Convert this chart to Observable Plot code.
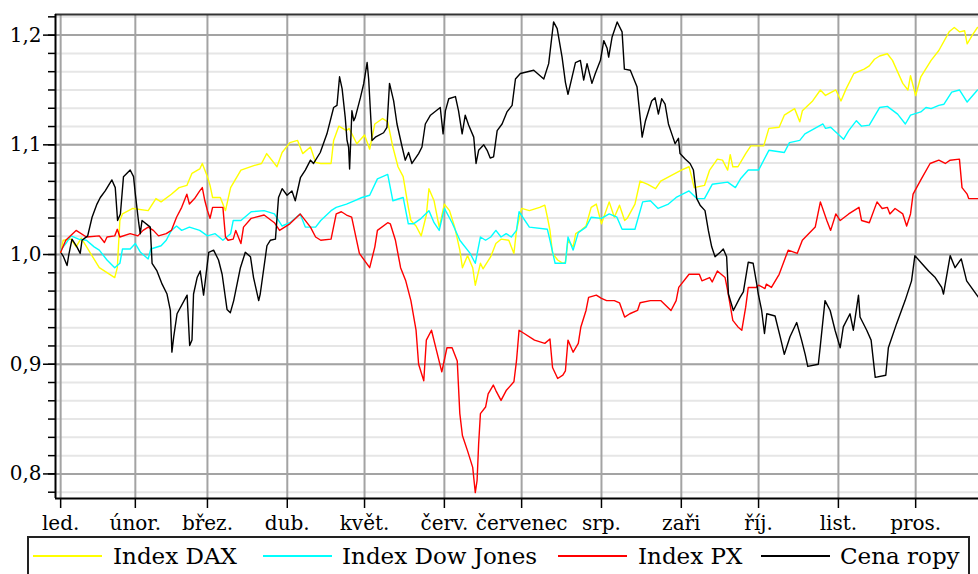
<!DOCTYPE html>
<html><head><meta charset="utf-8">
<script src="https://cdn.jsdelivr.net/npm/d3@7"></script>
<script src="https://cdn.jsdelivr.net/npm/@observablehq/plot@0.6"></script>
<style>
body{margin:0;background:#fff;}
#wrap{position:relative;width:978px;height:574px;overflow:hidden;font-family:"DejaVu Serif",serif;background:#fff;}
#legend-box{position:absolute;left:27px;top:536px;width:943px;height:60px;border:2px solid #222;box-sizing:border-box;}
.lg-line{position:absolute;height:2px;width:69px;top:555px;}
.lg-text{position:absolute;font-size:23px;line-height:23px;top:544.5px;white-space:nowrap;color:#000;}
</style></head>
<body><div id="wrap"></div>
<script>
// ---- data (day of year 2006, relative value) ----
const seriesNames = ["Index DAX", "Index Dow Jones", "Index PX", "Cena ropy"];
const seriesColors = ["#ffff00", "#00ffff", "#ff0000", "#000000"];

const daxSeries = [[2,1.002],[3,1.013],[6,1.014],[8,1.007],[10,1.015],[17,0.988],[23,0.979],[24,0.988],[25,1.031],[26,1.037],[30,1.042],[36,1.040],[39,1.051],[41,1.048],[45,1.055],[48,1.061],[51,1.063],[53,1.074],[56,1.078],[57,1.083],[59,1.071],[60,1.063],[61,1.052],[64,1.052],[66,1.040],[68,1.061],[72,1.077],[77,1.081],[80,1.083],[82,1.092],[86,1.080],[88,1.093],[91,1.102],[94,1.104],[96,1.092],[99,1.098],[101,1.084],[103,1.083],[107,1.083],[108,1.104],[110,1.117],[113,1.113],[114,1.115],[117,1.101],[120,1.109],[122,1.096],[124,1.119],[127,1.124],[129,1.121],[131,1.098],[133,1.080],[135,1.071],[137,1.043],[138,1.031],[140,1.026],[142,1.017],[144,1.036],[145,1.060],[147,1.049],[149,1.025],[151,1.046],[153,1.040],[155,1.025],[157,1.004],[158,0.988],[160,0.999],[162,0.988],[163,0.972],[165,0.992],[166,0.987],[169,0.998],[171,1.010],[173,1.014],[176,1.013],[178,1.001],[179,1.022],[181,1.042],[184,1.040],[188,1.043],[190,1.045],[191,1.034],[192,1.022],[193,1.001],[195,0.995],[197,0.992],[198,0.993],[199,1.013],[201,1.007],[202,1.019],[204,1.022],[206,1.026],[208,1.043],[210,1.046],[212,1.028],[215,1.048],[217,1.034],[219,1.045],[221,1.031],[222,1.033],[225,1.046],[227,1.067],[230,1.064],[233,1.060],[235,1.067],[239,1.072],[243,1.077],[246,1.080],[247,1.071],[248,1.061],[252,1.063],[254,1.077],[257,1.087],[259,1.086],[261,1.077],[262,1.091],[263,1.080],[265,1.080],[268,1.092],[270,1.099],[275,1.099],[277,1.115],[281,1.116],[283,1.127],[287,1.133],[289,1.121],[290,1.131],[294,1.140],[297,1.150],[299,1.145],[303,1.150],[305,1.140],[307,1.151],[310,1.165],[314,1.169],[316,1.172],[318,1.178],[320,1.181],[323,1.183],[325,1.177],[329,1.156],[331,1.150],[332,1.163],[334,1.145],[336,1.162],[340,1.177],[343,1.186],[347,1.203],[349,1.207],[351,1.203],[353,1.204],[354,1.192],[356,1.200],[358,1.207]];

const dowSeries = [[2,1.004],[4,1.010],[6,1.017],[9,1.014],[12,1.013],[15,1.007],[17,1.004],[20,0.995],[23,0.988],[25,0.992],[26,1.005],[29,1.005],[31,1.010],[33,1.002],[36,0.996],[37,1.005],[41,1.008],[43,1.013],[45,1.022],[47,1.026],[49,1.022],[52,1.025],[56,1.022],[59,1.017],[62,1.019],[65,1.013],[68,1.019],[69,1.031],[72,1.031],[76,1.039],[81,1.040],[85,1.037],[88,1.026],[91,1.029],[95,1.037],[97,1.025],[101,1.025],[103,1.031],[107,1.040],[109,1.043],[113,1.046],[116,1.049],[119,1.052],[122,1.054],[125,1.069],[129,1.073],[131,1.049],[135,1.052],[137,1.028],[139,1.028],[142,1.033],[145,1.040],[147,1.029],[149,1.022],[151,1.042],[154,1.029],[157,1.013],[161,1.001],[163,0.992],[165,1.016],[167,1.013],[169,1.016],[171,1.022],[173,1.016],[175,1.019],[177,1.016],[179,1.022],[180,1.039],[184,1.025],[191,1.023],[192,1.013],[194,0.992],[198,0.992],[199,1.016],[201,1.004],[203,1.020],[206,1.025],[208,1.034],[212,1.033],[215,1.037],[218,1.034],[220,1.023],[225,1.023],[228,1.048],[231,1.049],[234,1.042],[238,1.046],[241,1.052],[246,1.058],[249,1.051],[252,1.051],[255,1.064],[261,1.066],[264,1.061],[266,1.069],[269,1.077],[273,1.077],[277,1.095],[283,1.093],[285,1.102],[289,1.104],[291,1.110],[298,1.119],[299,1.115],[301,1.116],[306,1.105],[308,1.113],[311,1.122],[313,1.117],[316,1.118],[320,1.134],[323,1.135],[327,1.128],[330,1.119],[332,1.127],[336,1.130],[338,1.134],[340,1.133],[343,1.136],[345,1.137],[348,1.148],[351,1.150],[354,1.139],[358,1.150]];

const pxSeries = [[2,1.002],[4,1.013],[8,1.022],[12,1.016],[17,1.017],[19,1.011],[20,1.016],[23,1.017],[24,1.023],[25,1.016],[29,1.019],[32,1.017],[34,1.022],[36,1.025],[38,1.022],[40,1.017],[43,1.019],[45,1.022],[47,1.034],[49,1.043],[51,1.055],[52,1.046],[54,1.051],[56,1.058],[57,1.061],[58,1.049],[59,1.040],[60,1.033],[61,1.043],[65,1.043],[66,1.016],[67,1.013],[69,1.014],[70,1.022],[72,1.010],[73,1.025],[76,1.033],[81,1.036],[85,1.029],[87,1.022],[91,1.028],[95,1.037],[99,1.025],[101,1.016],[103,1.013],[107,1.014],[109,1.037],[111,1.039],[113,1.036],[115,1.034],[118,1.001],[122,0.988],[124,1.007],[125,1.022],[129,1.029],[130,1.028],[132,1.013],[134,0.988],[136,0.976],[138,0.958],[140,0.931],[141,0.900],[143,0.885],[144,0.922],[146,0.931],[148,0.912],[150,0.893],[152,0.915],[154,0.915],[156,0.903],[157,0.855],[158,0.835],[160,0.821],[162,0.806],[163,0.783],[163.7,0.794],[164.3,0.827],[165,0.855],[167,0.861],[168,0.873],[170,0.881],[171,0.876],[173,0.867],[175,0.876],[178,0.884],[179,0.903],[180,0.931],[182,0.928],[186,0.922],[190,0.919],[192,0.923],[192.3,0.915],[193,0.897],[195,0.887],[197,0.890],[198,0.894],[199,0.922],[201,0.911],[203,0.919],[204,0.934],[206,0.949],[207,0.961],[210,0.963],[212,0.960],[214,0.958],[217,0.958],[219,0.956],[221,0.943],[223,0.946],[226,0.949],[227,0.956],[231,0.958],[235,0.958],[239,0.949],[241,0.958],[242,0.970],[246,0.982],[250,0.982],[251,0.976],[254,0.979],[255,0.975],[257,0.985],[260,0.979],[261,0.967],[263,0.940],[265,0.934],[266.5,0.931],[268,0.952],[269,0.970],[272,0.970],[273,0.972],[275.5,0.969],[276,0.973],[278,0.970],[281,0.982],[284.5,1.004],[288,1.001],[290,1.013],[295,1.025],[297,1.048],[299.5,1.031],[301,1.022],[303,1.037],[304.7,1.031],[308,1.037],[312,1.043],[313,1.031],[316,1.029],[319,1.048],[321,1.042],[323,1.043],[324,1.037],[326,1.042],[329,1.037],[330.5,1.026],[332,1.037],[333,1.055],[336,1.068],[339.6,1.083],[343,1.086],[345.5,1.083],[347.4,1.086],[351,1.087],[352,1.061],[354,1.055],[354.6,1.051],[358.4,1.051]];

const oilSeries = [[2.3,1.001],[3.1,0.998],[4.5,0.990],[5.1,0.999],[6.4,1.014],[8.3,1.007],[9.6,1.001],[10.3,1.013],[12.5,1.017],[14.2,1.034],[16.1,1.046],[17.4,1.052],[19.3,1.058],[21.9,1.068],[23.2,1.061],[24.1,1.031],[25.2,1.037],[26.4,1.071],[29,1.077],[30.3,1.071],[31,1.055],[32.3,1.029],[32.9,1.019],[33.6,1.031],[36.8,1.025],[37.5,0.992],[39.4,0.985],[41.4,0.973],[43.3,0.964],[44.6,0.949],[45.2,0.911],[45.9,0.925],[47.2,0.946],[51.1,0.963],[52.1,0.917],[53,0.922],[53.6,0.964],[55,0.979],[56.2,0.985],[57.5,0.963],[59.5,1.002],[61.4,1.004],[63.3,0.995],[64.7,0.982],[66.6,0.950],[67.9,0.947],[69.2,0.958],[71.8,0.988],[73.7,1.002],[75.7,0.998],[76.9,0.979],[78.9,0.958],[79.5,0.964],[82.1,1.008],[83.4,1.013],[85.4,1.014],[86.6,1.052],[88,1.060],[89.9,1.054],[91.8,1.058],[93.1,1.049],[95.1,1.070],[97,1.077],[99,1.086],[100.2,1.083],[102.8,1.093],[105.4,1.110],[108,1.134],[109.3,1.136],[110.3,1.162],[111.3,1.151],[112.5,1.125],[113.2,1.104],[113.8,1.098],[114.2,1.078],[115.1,1.131],[115.8,1.122],[116.4,1.125],[118.4,1.143],[119.7,1.156],[121,1.175],[121.6,1.160],[122.9,1.104],[124.2,1.107],[127.4,1.111],[128.7,1.116],[129.7,1.156],[131.3,1.140],[132.6,1.119],[134.6,1.098],[135.8,1.086],[137.1,1.093],[138.4,1.083],[141,1.092],[142.3,1.098],[143.6,1.119],[145.6,1.127],[149.4,1.134],[150.5,1.110],[151.4,1.131],[152.7,1.142],[155.3,1.144],[156.5,1.131],[157.9,1.110],[159.1,1.127],[160.4,1.118],[162.4,1.107],[163.3,1.083],[164.3,1.095],[166.3,1.100],[167.6,1.095],[168.8,1.088],[170.1,1.089],[171.5,1.113],[173.4,1.119],[175.3,1.130],[177.3,1.136],[178.6,1.160],[180.5,1.165],[185.7,1.168],[189.6,1.160],[191.5,1.174],[193.4,1.212],[194.8,1.206],[196.7,1.180],[198,1.157],[199,1.146],[200.6,1.162],[201.9,1.175],[203.8,1.177],[205.1,1.159],[206.4,1.174],[208.3,1.156],[209.6,1.165],[211.6,1.177],[212.9,1.195],[214.2,1.188],[214.8,1.180],[216.1,1.198],[218.1,1.212],[220,1.203],[220.9,1.169],[223.2,1.168],[225.8,1.153],[227.8,1.107],[229.1,1.122],[231.5,1.140],[232.8,1.143],[234.1,1.128],[235.4,1.142],[236.7,1.137],[238,1.119],[239.3,1.110],[240.6,1.101],[241.9,1.106],[242.5,1.092],[244.5,1.087],[246.4,1.083],[247.7,1.077],[249,1.051],[250.3,1.045],[252.2,1.040],[253.5,1.022],[254.8,1.007],[256.1,0.998],[258.1,1.002],[259.3,1.005],[260.6,0.998],[261.3,0.964],[263.2,0.949],[265.8,0.961],[267.1,0.966],[269,0.993],[270.9,0.992],[272.3,0.973],[272.9,0.964],[274.2,0.949],[275.3,0.928],[276.2,0.946],[279.4,0.944],[281.4,0.925],[283,0.909],[285.2,0.925],[287.8,0.938],[289.7,0.922],[291.1,0.909],[292.1,0.898],[296.2,0.900],[296.9,0.915],[298.8,0.958],[300.8,0.949],[302.7,0.931],[304.7,0.915],[305.9,0.934],[308.5,0.946],[309.8,0.931],[311.8,0.963],[312.4,0.943],[315,0.931],[316.7,0.922],[318.3,0.888],[322.4,0.890],[323.4,0.915],[326.6,0.937],[329.9,0.958],[332.4,0.976],[333.7,0.999],[336.3,0.992],[339,0.985],[341.6,0.979],[344.1,0.970],[344.8,0.964],[347.4,0.999],[349.3,0.988],[351.7,0.996],[353.8,0.976],[358.4,0.961]];

const monthTickDates = ["2006-01-03","2006-02-01","2006-03-01","2006-04-01","2006-05-01","2006-06-01","2006-07-01","2006-08-01","2006-09-01","2006-10-01","2006-11-01","2006-12-01"];
const monthLabels = ["led.","únor.","břez.","dub.","květ.","červ.","červenec","srp.","zaři","říj.","list.","pros."];
const yMajorTicks = [0.8, 0.9, 1.0, 1.1, 1.2];

// ---- build ----
const T0 = Date.UTC(2006, 0, 1), DAY = 864e5;
const toDate = d => new Date(T0 + d * DAY);
const allSeries = [daxSeries, dowSeries, pxSeries, oilSeries];
const rows = allSeries.map((s, i) => s.map(([d, v]) => ({name: seriesNames[i], date: toDate(d), value: v})));
const monthTicks = monthTickDates.map(s => new Date(s + "T00:00:00Z"));
const labelOf = new Map(monthTicks.map((d, i) => [+d, monthLabels[i]]));
const yMinorTicks = d3.range(47, 74).map(k => k / 60);
const xDomain = [toDate(0), toDate(358.4)];
const yDomain = [0.7776, 1.2188];

const chart = Plot.plot({
  width: 978, height: 537,
  marginLeft: 55, marginRight: 0, marginTop: 14, marginBottom: 39,
  x: {type: "utc", domain: xDomain, label: null},
  y: {domain: yDomain, label: null},
  style: {fontFamily: '"DejaVu Serif", serif', fontSize: "20px", color: "#000", background: "#fff", overflow: "visible"},
  marks: [
    Plot.ruleY(yMinorTicks, {stroke: "#e6e6e6", strokeWidth: 2}),
    Plot.ruleY(yMajorTicks, {stroke: "#a3a3a3", strokeWidth: 2}),
    Plot.ruleX(monthTicks, {stroke: "#a3a3a3", strokeWidth: 2}),
    ...rows.map((r, i) => Plot.line(r, {x: "date", y: "value", stroke: seriesColors[i], strokeWidth: 1.4})),
    Plot.ruleY([yDomain[1]], {stroke: "#333", strokeWidth: 2}),
    Plot.ruleY([yDomain[0]], {stroke: "#000", strokeWidth: 2}),
    Plot.ruleX([xDomain[0]], {stroke: "#000", strokeWidth: 2}),
    Plot.axisY(yMinorTicks, {tickSize: 7, tickFormat: () => "", strokeWidth: 1.5, label: null}),
    Plot.axisY(yMajorTicks, {tickSize: 12, tickPadding: 2, strokeWidth: 1.5, fontSize: 20, label: null,
      tickFormat: d => d.toFixed(1).replace(".", ",")}),
    Plot.axisX(monthTicks, {tickSize: 10, tickPadding: 7, strokeWidth: 1.5, fontSize: 20, label: null,
      tickFormat: d => labelOf.get(+d)})
  ]
});

const wrap = document.getElementById("wrap");
wrap.appendChild(chart);

// ---- legend ----
const legendLineLeft = [33, 263, 558, 761];
const legendTextLeft = [113, 342, 638, 840];
const box = document.createElement("div");
box.id = "legend-box";
wrap.appendChild(box);
seriesNames.forEach((name, i) => {
  const ln = document.createElement("div");
  ln.className = "lg-line";
  ln.style.left = legendLineLeft[i] + "px";
  ln.style.background = seriesColors[i];
  wrap.appendChild(ln);
  const tx = document.createElement("div");
  tx.className = "lg-text";
  tx.style.left = legendTextLeft[i] + "px";
  tx.textContent = name;
  wrap.appendChild(tx);
});
</script></body></html>
